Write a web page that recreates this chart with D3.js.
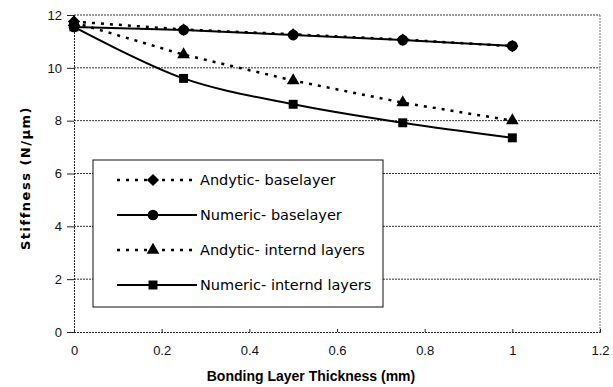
<!DOCTYPE html>
<html>
<head>
<meta charset="utf-8">
<script src="https://cdn.jsdelivr.net/npm/d3@7"></script>
<style>
  body { margin: 0; background: #fff; }
  svg { font-family: 'DejaVu Sans', sans-serif; }
</style>
</head>
<body>
<div id="chart"></div>
<script>
// data
const thickness = [0, 0.25, 0.5, 0.75, 1];
const analyticBase = [11.75, 11.45, 11.27, 11.07, 10.82];
const numericBase = [11.55, 11.43, 11.24, 11.05, 10.83];
const analyticInternal = [11.72, 10.5, 9.52, 8.68, 8.0];
const numericInternal = [11.55, 9.6, 8.62, 7.92, 7.35];
const seriesNames = ["Andytic- baselayer", "Numeric- baselayer", "Andytic- internd layers", "Numeric- internd layers"];
const xTicks = [0, 0.2, 0.4, 0.6, 0.8, 1, 1.2];
const yTicks = [0, 2, 4, 6, 8, 10, 12];

const W = 613, H = 387;
const margin = { top: 15, right: 13, bottom: 55, left: 74 };
const width = W - margin.left - margin.right;
const height = H - margin.top - margin.bottom;

const svg = d3.select("#chart").append("svg")
    .attr("width", W)
    .attr("height", H);

const g = svg.append("g")
    .attr("transform", `translate(${margin.left},${margin.top})`);

const x = d3.scaleLinear().domain([0, 1.2]).range([0, width]);
const y = d3.scaleLinear().domain([0, 12]).range([height, 0]);

// gridlines
g.selectAll(".grid")
    .data(yTicks.filter(d => d > 0))
    .enter().append("line")
    .attr("x1", 0).attr("x2", width)
    .attr("y1", d => y(d)).attr("y2", d => y(d))
    .style("stroke", "#333")
    .style("stroke-width", 1)
    .style("stroke-dasharray", "2,1");

// right border
g.append("line")
    .attr("x1", width).attr("x2", width)
    .attr("y1", 0).attr("y2", height)
    .style("stroke", "#777")
    .style("stroke-dasharray", "2,1");

// axes
const yAxis = g.append("g")
    .call(d3.axisLeft(y).tickValues(yTicks).tickSize(7).tickPadding(5).tickFormat(d3.format("d")));
const xAxis = g.append("g")
    .attr("transform", `translate(0,${height})`)
    .call(d3.axisBottom(x).tickValues(xTicks).tickSize(-3).tickPadding(14).tickFormat(d => d));

[yAxis, xAxis].forEach(a => {
    a.select(".domain").style("stroke", "#222").style("stroke-dasharray", "2,1");
    a.selectAll(".tick line").style("stroke", "#222");
    a.selectAll("text").style("font-size", "13px").style("fill", "#111");
});

// axis titles
svg.append("text")
    .attr("x", 311)
    .attr("y", 381)
    .attr("text-anchor", "middle")
    .style("font-family", "'Liberation Sans', Arial, sans-serif")
    .style("font-size", "14px")
    .style("font-weight", "bold")
    .text("Bonding Layer Thickness (mm)");

svg.append("text")
    .attr("transform", "translate(30,178) rotate(-90)")
    .attr("text-anchor", "middle")
    .style("font-size", "13px")
    .style("font-weight", "bold")
    .style("letter-spacing", "1.5px")
    .text("Stiffness (N/\u03bcm)");

const series = [
    { name: seriesNames[0], values: analyticBase, dashed: true, symbol: d3.symbolSquare, size: 75, rotate: 45 },
    { name: seriesNames[1], values: numericBase, dashed: false, symbol: d3.symbolCircle, size: 90, rotate: 0 },
    { name: seriesNames[2], values: analyticInternal, dashed: true, symbol: d3.symbolTriangle, size: 70, rotate: 0 },
    { name: seriesNames[3], values: numericInternal, dashed: false, symbol: d3.symbolSquare, size: 80, rotate: 0 }
];

series.forEach(s => {
    const line = d3.line()
        .x((d, i) => x(thickness[i]))
        .y(d => y(d))
        .curve(s.dashed ? d3.curveLinear : d3.curveCatmullRom);

    g.append("path")
        .datum(s.values)
        .attr("d", line)
        .style("fill", "none")
        .style("stroke", "#000")
        .style("stroke-width", s.dashed ? 2.5 : 2)
        .style("stroke-dasharray", s.dashed ? "3,6" : null);

    g.selectAll(null)
        .data(s.values)
        .enter().append("path")
        .attr("transform", (d, i) => `translate(${x(thickness[i])},${y(d)}) rotate(${s.rotate})`)
        .attr("d", d3.symbol().type(s.symbol).size(s.size))
        .style("fill", "#000");
});

// legend box
const legend = svg.append("g").attr("transform", "translate(93,160)");
legend.append("rect")
    .attr("width", 290)
    .attr("height", 147)
    .style("fill", "#fff")
    .style("stroke", "#111")
    .style("stroke-width", 1);

series.forEach((s, i) => {
    const ly = 20 + i * 35;
    legend.append("line")
        .attr("x1", 24).attr("x2", 104)
        .attr("y1", ly).attr("y2", ly)
        .style("stroke", "#000")
        .style("stroke-width", s.dashed ? 2.5 : 2)
        .style("stroke-dasharray", s.dashed ? "3,6" : null);
    legend.append("path")
        .attr("transform", `translate(60,${ly}) rotate(${s.rotate})`)
        .attr("d", d3.symbol().type(s.symbol).size(s.size))
        .style("fill", "#000");
    legend.append("text")
        .attr("x", 107)
        .attr("y", ly + 5)
        .style("font-size", "14.5px")
        .text(s.name);
});
</script>
</body>
</html>
